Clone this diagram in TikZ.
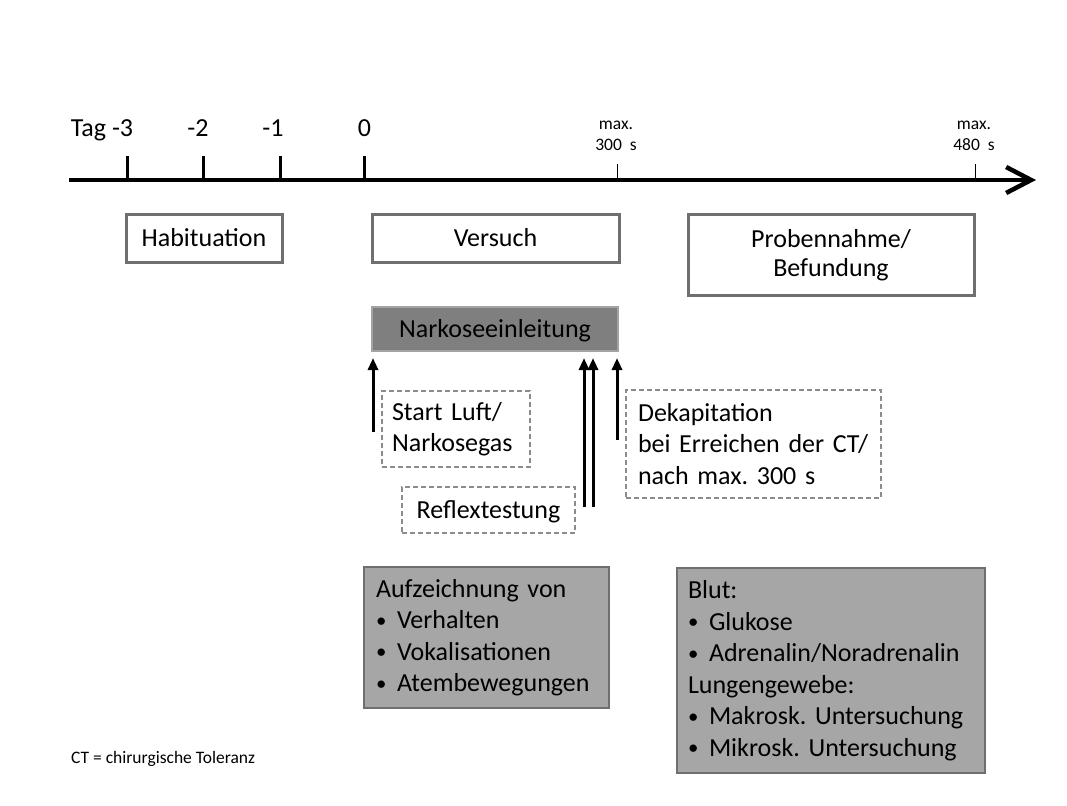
\documentclass[tikz,border=0pt]{standalone}
\usepackage{fontspec}
\setmainfont{Carlito}
\usetikzlibrary{arrows.meta}
\definecolor{bordergray}{HTML}{6F6F6F}
\definecolor{narkofill}{HTML}{7F7F7F}
\definecolor{narkoborder}{HTML}{A3A3A3}
\definecolor{infofill}{HTML}{A6A6A6}
\definecolor{infoborder}{HTML}{6F6F6F}
\definecolor{dashgray}{HTML}{8C8C8C}
\newcommand{\itembul}{\makebox[21pt][l]{\raisebox{1.5pt}{\scalebox{0.8}{•}}}}
\frenchspacing
\begin{document}
\begin{tikzpicture}[x=1pt,y=-1pt,
  every node/.style={inner sep=0pt, text=black},
  big/.style={font=\fontsize{26}{31.5}\selectfont\frenchspacing},
  small/.style={font=\fontsize{17.5}{21.5}\selectfont\frenchspacing},
  oneline/.style={text height=20pt, text depth=3pt},
  tbox/.style={big, draw=bordergray, line width=3pt, fill=white},
  narko/.style={big, draw=narkoborder, line width=1.5pt, fill=narkofill},
  dbox/.style={big, draw=dashgray, line width=1.2pt, dash pattern=on 5pt off 3pt},
  ibox/.style={big, draw=infoborder, line width=1.2pt, fill=infofill, align=left},
  axis/.style={line width=4pt, -{Straight Barb[length=25pt,width=26pt,line width=4.5pt]}},
  bigtick/.style={line width=3pt},
  thintick/.style={line width=1.2pt},
  uparrow/.style={line width=3pt, -{Triangle[length=12pt,width=10pt]}}
]
\useasboundingbox[fill=white] (0,0) rectangle (1067,805);

% timeline
\coordinate (axs) at (69,180);
\coordinate (axe) at (1036,180);
\draw[axis] (axs) -- (axe);

\coordinate (t3) at (127.7,180);
\coordinate (t2) at (203,180);
\coordinate (t1) at (280,180);
\coordinate (t0) at (364,180);
\coordinate (t300) at (617.7,180);
\coordinate (t480) at (975.7,180);
\draw[bigtick] (t3) -- ++(0,-24);
\draw[bigtick] (t2) -- ++(0,-24);
\draw[bigtick] (t1) -- ++(0,-24);
\draw[bigtick] (t0) -- ++(0,-24);
\draw[thintick] (t300) -- ++(0,-16);
\draw[thintick] (t480) -- ++(0,-16);

\node[big, anchor=base] (l3) at (102,136.5) {Tag -3};
\node[big, anchor=base] (l2) at (198,136.5) {-2};
\node[big, anchor=base] (l1) at (273,136.5) {-1};
\node[big, anchor=base] (l0) at (364.5,136.5) {0};
\node[small, align=center] (l300) at (616,136) {max.\\300\ \ s};
\node[small, align=center] (l480) at (974,136) {max.\\480\ \ s};

% phase boxes
\node[tbox, oneline, minimum width=156pt, minimum height=48pt] (hab) at (204,238) {Habituation};
\node[tbox, oneline, minimum width=247pt, minimum height=48pt] (ver) at (495.5,238) {Versuch};
\node[tbox, minimum width=286pt, minimum height=81pt, align=center] (prob) at (831,255) {Probennahme/\\[-2pt]Befundung};

\node[narko, oneline, minimum width=246pt, minimum height=44pt] (nark) at (495,329) {Narkoseeinleitung};

% dashed annotation boxes
\node[dbox, text width=128pt, inner xsep=10pt, minimum height=76pt, align=left] (start) at (456,429) {Start Luft/\\Narkosegas};
\node[dbox, oneline, minimum width=173pt, minimum height=46pt] (refl) at (488.5,510) {Reflextestung};
\node[dbox, text width=231pt, inner xsep=12pt, minimum height=108pt, align=left] (dek) at (753.5,444) {Dekapitation\\bei Erreichen der CT/\\nach max. 300 s};

% arrows
\coordinate (a1s) at (373,432);  \coordinate (a1e) at (373,358);
\coordinate (a2s) at (584,507);  \coordinate (a2e) at (584,358);
\coordinate (a3s) at (593,507);  \coordinate (a3e) at (593,358);
\coordinate (a4s) at (617,440);  \coordinate (a4e) at (617,358);
\draw[uparrow] (a1s) -- (a1e);
\draw[uparrow] (a2s) -- (a2e);
\draw[uparrow] (a3s) -- (a3e);
\draw[uparrow] (a4s) -- (a4e);

% info boxes
\node[ibox, text width=221pt, inner xsep=12pt, minimum height=141pt] (auf) at (486.5,637.5)
  {Aufzeichnung von\\\itembul Verhalten\\\itembul Vokalisationen\\\itembul Atembewegungen};
\node[ibox, text width=286pt, inner xsep=11pt, minimum height=205pt] (blut) at (831,670.5)
  {Blut:\\\itembul Glukose\\\itembul Adrenalin/Noradrenalin\\Lungengewebe:\\\itembul Makrosk. Untersuchung\\\itembul Mikrosk. Untersuchung};

\node[small, anchor=base west] (ct) at (71,763.5) {CT = chirurgische Toleranz};
\end{tikzpicture}
\end{document}
